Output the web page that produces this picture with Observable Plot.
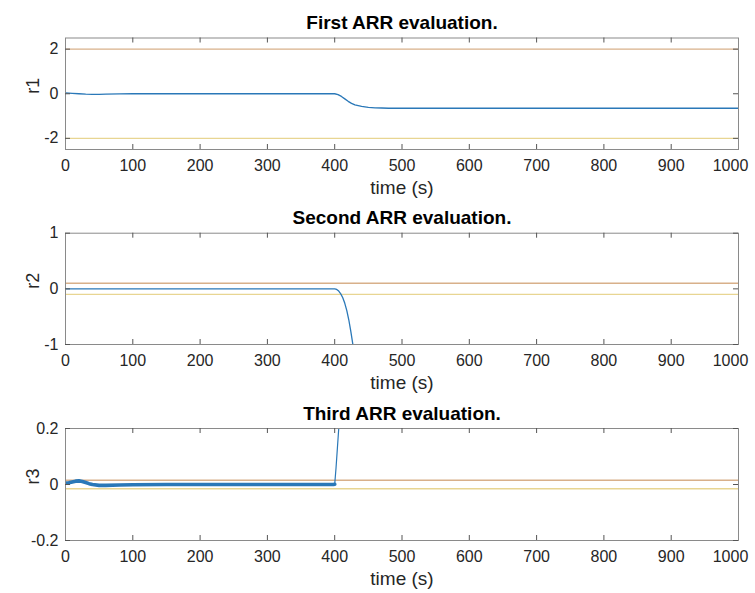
<!DOCTYPE html>
<html>
<head>
<meta charset="utf-8">
<script src="https://cdn.jsdelivr.net/npm/d3@7"></script>
<script src="https://cdn.jsdelivr.net/npm/@observablehq/plot@0.6"></script>
<style>
  body { margin: 0; background: #fff; }
  #chart { position: relative; width: 755px; height: 593px; }
  #chart svg { position: absolute; left: 0; }
</style>
</head>
<body>
<div id="chart"></div>
<script>
// ---- data ----
const titles = ["First ARR evaluation.", "Second ARR evaluation.", "Third ARR evaluation."];
const yLabels = ["r1", "r2", "r3"];
const xLabel = "time (s)";
const xTicks = [0, 100, 200, 300, 400, 500, 600, 700, 800, 900, 1000];

const r1Time   = [0, 10, 20, 30, 40, 50, 60, 80, 100, 400, 405, 410, 415, 420, 425, 430, 440, 450, 460, 470, 480, 500, 1000];
const r1Values = [0.04, 0.02, 0.0, -0.02, -0.03, -0.03, -0.02, -0.01, 0, 0, -0.04, -0.12, -0.23, -0.34, -0.43, -0.5, -0.57, -0.61, -0.63, -0.64, -0.65, -0.65, -0.65];
const r1Bounds = [2, -2];
const r1Ticks  = [-2, 0, 2];

const r2Time   = [0, 400, 403, 406, 409, 412, 415, 418, 421, 424, 427, 430];
const r2Values = [0, 0, -0.01, -0.04, -0.09, -0.16, -0.26, -0.39, -0.56, -0.77, -1.0, -1.25];
const r2Bounds = [0.1, -0.1];
const r2Ticks  = [-1, 0, 1];

const r3Time   = [0, 5, 10, 15, 20, 25, 30, 35, 40, 50, 60, 80, 100, 150, 200, 250, 300, 350, 398, 400, 402, 404, 406, 408];
const r3Values = [0.005, 0.006, 0.009, 0.012, 0.013, 0.011, 0.007, 0.003, 0.0, -0.003, -0.003, -0.002, -0.001, 0.0, 0.0, 0.0, 0.0, 0.0, 0.0, 0.001, 0.06, 0.13, 0.2, 0.26];
const r3Bounds = [0.015, -0.015];
const r3Ticks  = [-0.2, 0, 0.2];

// ---- styles ----
const font = "'Liberation Sans', Arial, sans-serif";
const blue = "#2a78b8";
const upperColor = "#d8b08a";
const lowerColor = "#e8d592";
const frameColor = "#8a8a8a";
const tickColor = "#555";
const W = 755, ML = 65, MR = 17;

function panel({title, ylabel, time, values, bounds, yDomain, yTicks, height, marginTop, marginBottom, thickUntil}) {
  const data = time.map((t, i) => ({t, v: values[i]}));
  const boundData = bounds.map((b, i) => ({b, i}));
  const inner = xTicks.slice(1, -1);
  const lastTick = xTicks[xTicks.length - 1];
  const fh = height - marginTop - marginBottom;
  const fw = W - ML - MR;
  const tl = 5;
  const lineMarks = thickUntil == null
    ? [Plot.line(data, {x: "t", y: "v", stroke: blue, strokeWidth: 1.3, clip: true})]
    : [
        Plot.line(data.filter(d => d.t <= thickUntil), {x: "t", y: "v", stroke: blue, strokeWidth: 3.6, clip: true}),
        Plot.line(data.filter(d => d.t >= thickUntil), {x: "t", y: "v", stroke: blue, strokeWidth: 1.2, clip: true})
      ];
  return Plot.plot({
    width: W,
    height,
    marginLeft: ML,
    marginRight: MR,
    marginTop,
    marginBottom,
    style: {fontFamily: font, fontSize: "16px", color: "#262626", background: "transparent", overflow: "visible"},
    x: {domain: [0, 1000]},
    y: {domain: yDomain},
    marks: [
      Plot.ruleY(boundData, {y: "b", stroke: d => d.i === 0 ? upperColor : lowerColor, strokeWidth: 1.4}),
      ...lineMarks,
      Plot.frame({stroke: frameColor, strokeWidth: 1}),
      // inward tick marks (MATLAB box style)
      Plot.ruleX(inner, {x: d => d, insetBottom: fh - tl, stroke: tickColor}),
      Plot.ruleX(inner, {x: d => d, insetTop: fh - tl, stroke: tickColor}),
      Plot.ruleY(yTicks, {y: d => d, insetRight: fw - tl, stroke: tickColor}),
      Plot.ruleY(yTicks, {y: d => d, insetLeft: fw - tl, stroke: tickColor}),
      Plot.axisX(xTicks.slice(0, -1), {anchor: "bottom", tickSize: 0, tickPadding: 10, tickFormat: d => String(d), fontSize: 16, fill: "#262626", label: null}),
      Plot.axisX([lastTick], {anchor: "bottom", tickSize: 0, tickPadding: 10, dx: -8, tickFormat: d => String(d), fontSize: 16, fill: "#262626", label: null}),
      Plot.axisY(yTicks, {anchor: "left", tickSize: 0, tickPadding: 7, tickFormat: d => String(d), fontSize: 16, fill: "#262626", label: null}),
      Plot.text([title], {frameAnchor: "top", lineAnchor: "middle", dy: -15, fontSize: 19, fontWeight: "bold", fill: "#000"}),
      Plot.text([xLabel], {frameAnchor: "bottom", lineAnchor: "middle", dy: 38, fontSize: 19, fill: "#262626"}),
      Plot.text([ylabel], {frameAnchor: "left", lineAnchor: "middle", dx: -32, rotate: -90, fontSize: 18, fill: "#262626"})
    ]
  });
}

const chart = document.getElementById("chart");
const specs = [
  {title: titles[0], ylabel: yLabels[0], time: r1Time, values: r1Values, bounds: r1Bounds, yDomain: [-2.5, 2.5], yTicks: r1Ticks, top: 0, height: 200, marginTop: 37.5, marginBottom: 51},
  {title: titles[1], ylabel: yLabels[1], time: r2Time, values: r2Values, bounds: r2Bounds, yDomain: [-1, 1], yTicks: r2Ticks, top: 200, height: 195, marginTop: 32.7, marginBottom: 51},
  {title: titles[2], ylabel: yLabels[2], time: r3Time, values: r3Values, bounds: r3Bounds, yDomain: [-0.2, 0.2], yTicks: r3Ticks, top: 395, height: 198, marginTop: 33, marginBottom: 53, thickUntil: 400}
];
for (const s of specs) {
  const svg = panel(s);
  svg.style.top = s.top + "px";
  chart.appendChild(svg);
}
</script>
</body>
</html>
